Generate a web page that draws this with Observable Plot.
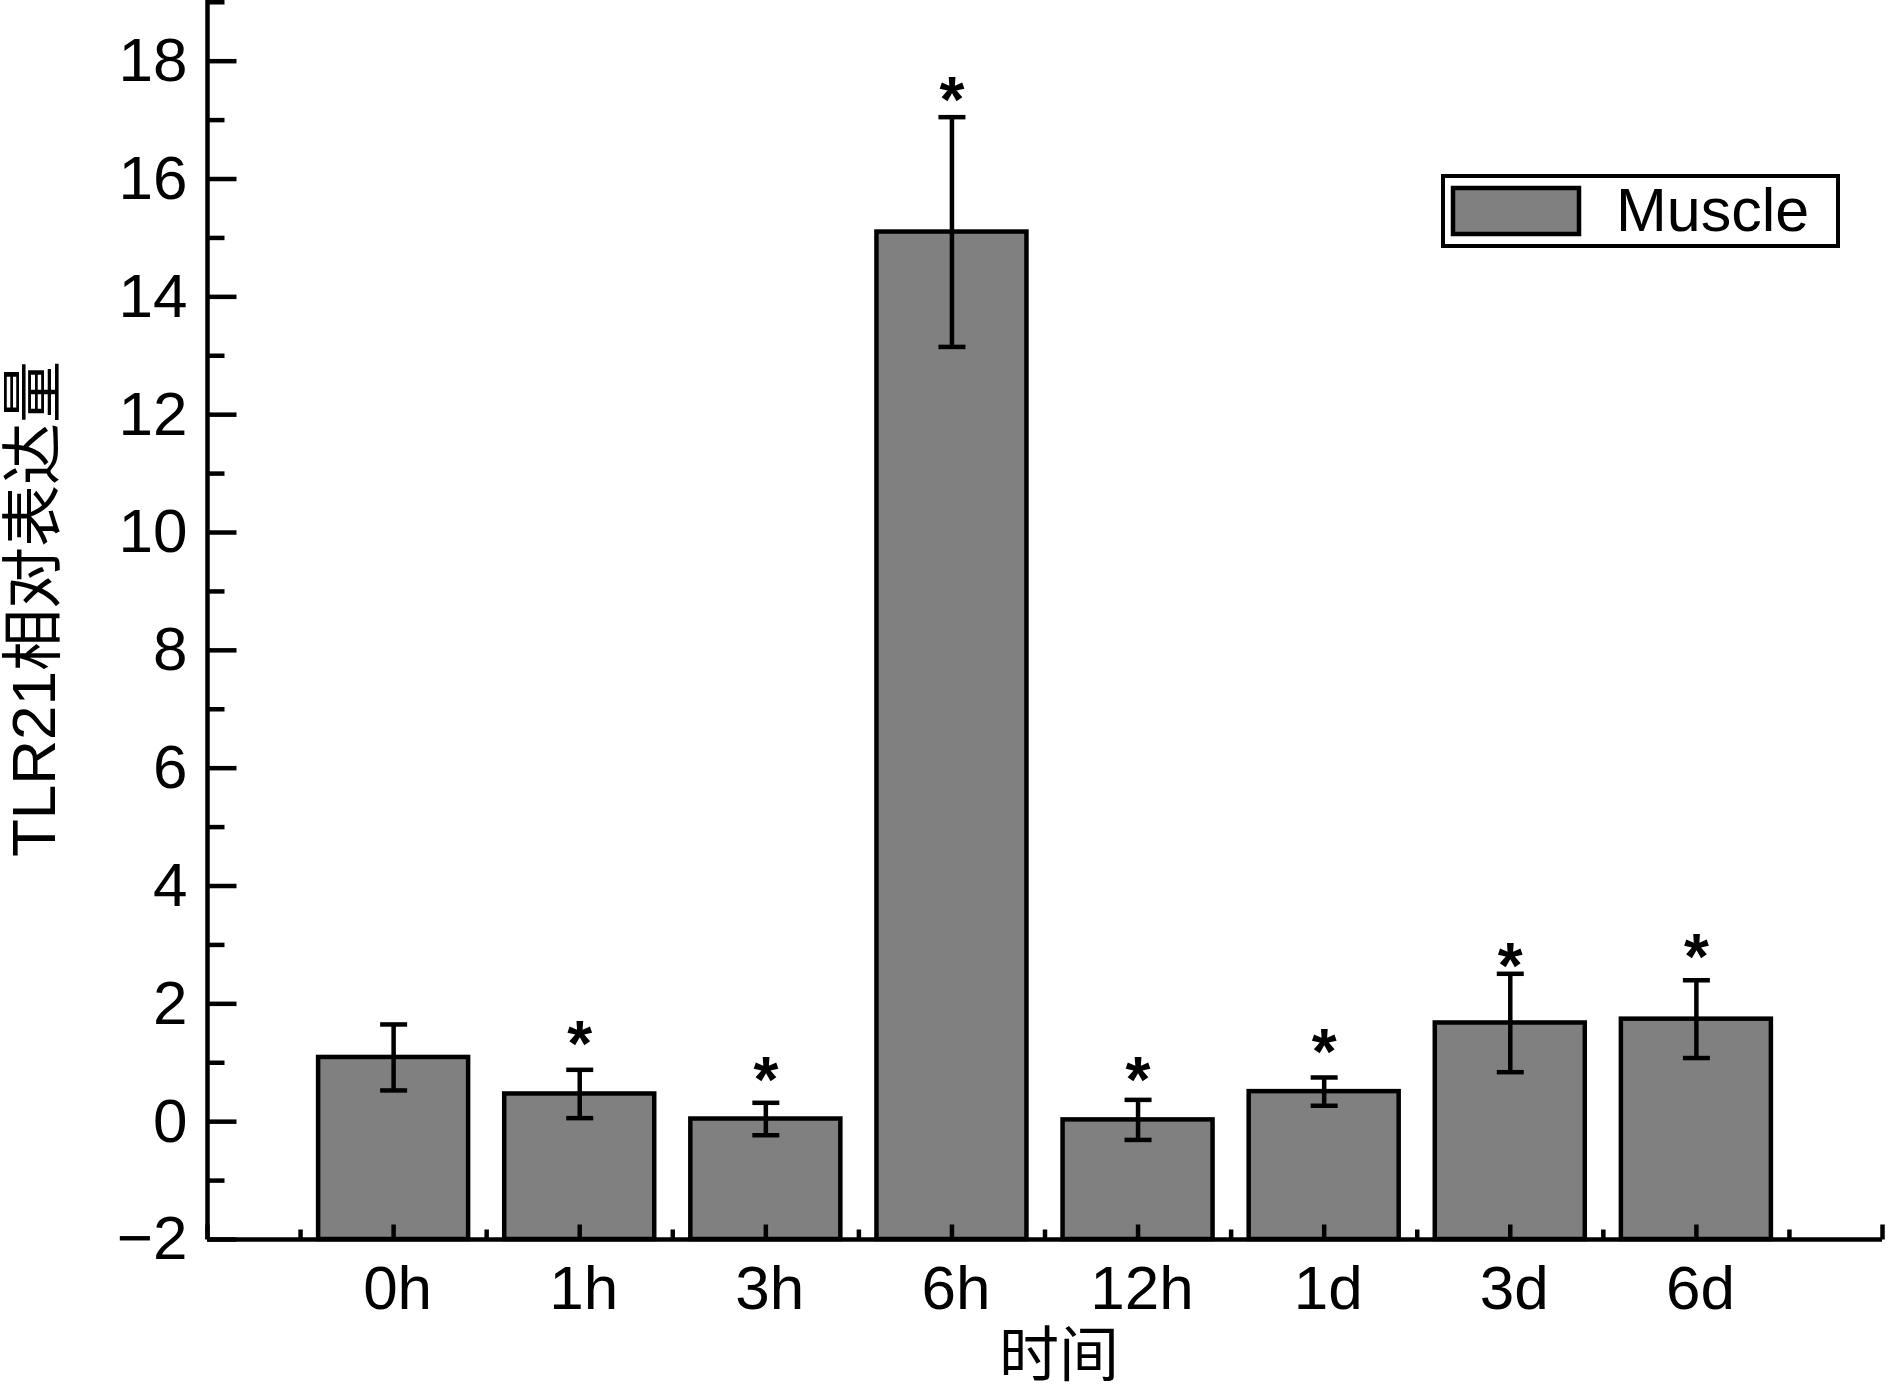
<!DOCTYPE html>
<html>
<head>
<meta charset="utf-8">
<script src="https://cdn.jsdelivr.net/npm/d3@7"></script>
<script src="https://cdn.jsdelivr.net/npm/@observablehq/plot@0.6"></script>
<style>
  html, body { margin: 0; padding: 0; background: white; overflow: hidden; }
  #chart svg { display: block; }
</style>
</head>
<body>
<div id="chart"></div>
<script>
// ---- data ----
const categories = ["0h", "1h", "3h", "6h", "12h", "1d", "3d", "6d"];
const means      = [1.09, 0.47, 0.045, 15.10, 0.03, 0.51, 1.675, 1.74];
const errors     = [0.56, 0.41, 0.275, 1.95, 0.34, 0.24, 0.835, 0.66];
const starLevels = [null, 1.52, 0.91, 17.54, 0.91, 1.37, 2.83, 2.99];
const yMajorTicks = [-2, 0, 2, 4, 6, 8, 10, 12, 14, 16, 18];
const yMinorTicks = [-1, 1, 3, 5, 7, 9, 11, 13, 15, 17, 19];
const yDomain = [-2, 19.03];
const yLabel = "TLR21相对表达量";
const xLabel = "时间";
const legendLabel = "Muscle";

// ---- derived tables ----
const bars = categories.map((c, i) => ({i, c, v: means[i], e: errors[i]}));
const stars = categories.map((c, i) => ({i, s: starLevels[i]})).filter(d => d.s != null);
const xMajorTicks = d3.range(-1, categories.length + 1);
const xMinorTicks = d3.range(-0.5, categories.length + 0.5, 1);
const fmt = d3.format("d");

const W = 1886, H = 1397;
const FONT = "'Liberation Sans', Arial, 'Noto Sans CJK SC', sans-serif";
const LW = 4.5;

// custom line symbols
const capSym = {draw(ctx, size) { const r = Math.sqrt(size / Math.PI); ctx.moveTo(-r, 0); ctx.lineTo(r, 0); }};
const rightTick = {draw(ctx, size) { const r = Math.sqrt(size / Math.PI); ctx.moveTo(0, 0); ctx.lineTo(r, 0); }};
const upTick = {draw(ctx, size) { const r = Math.sqrt(size / Math.PI); ctx.moveTo(0, 0); ctx.lineTo(0, -r); }};

const plot = Plot.plot({
  width: W,
  height: H,
  marginLeft: 207,
  marginRight: 4,
  marginTop: 0,
  marginBottom: 158,
  style: {fontFamily: FONT, background: "white", color: "black"},
  x: {type: "linear", domain: [-1, categories.length], axis: null},
  y: {domain: yDomain, axis: null},
  marks: [
    Plot.rect(bars, {x1: d => d.i - 0.403, x2: d => d.i + 0.403, y1: yDomain[0], y2: "v",
      fill: "#808080", stroke: "black", strokeWidth: LW}),
    Plot.ruleX(bars, {x: "i", y1: d => d.v - d.e, y2: d => d.v + d.e, stroke: "black", strokeWidth: LW}),
    Plot.dot(bars, {x: "i", y: d => d.v - d.e, symbol: capSym, r: 13.5, stroke: "black", strokeWidth: LW, fill: "none"}),
    Plot.dot(bars, {x: "i", y: d => d.v + d.e, symbol: capSym, r: 13.5, stroke: "black", strokeWidth: LW, fill: "none"}),
    Plot.text(stars, {x: "i", y: "s", text: () => "*", fontSize: 64, fontWeight: "bold", dy: 13, fill: "black"}),
    // axes lines
    Plot.ruleX([-1], {stroke: "black", strokeWidth: LW}),
    Plot.ruleY([yDomain[0]], {stroke: "black", strokeWidth: LW}),
    // y ticks (inward)
    Plot.dot(yMajorTicks, {y: d => d, frameAnchor: "left", symbol: rightTick, r: 29, stroke: "black", strokeWidth: LW, fill: "none"}),
    Plot.dot(yMinorTicks, {y: d => d, frameAnchor: "left", symbol: rightTick, r: 17, stroke: "black", strokeWidth: LW, fill: "none"}),
    Plot.text(yMajorTicks, {y: d => d, text: d => fmt(d), frameAnchor: "left", textAnchor: "end", dx: -20, fontSize: 62, fill: "black"}),
    // x ticks (inward)
    Plot.dot(xMajorTicks, {x: d => d, frameAnchor: "bottom", symbol: upTick, r: 15, stroke: "black", strokeWidth: LW, fill: "none"}),
    Plot.dot(xMinorTicks, {x: d => d, frameAnchor: "bottom", symbol: upTick, r: 10, stroke: "black", strokeWidth: LW, fill: "none"}),
    Plot.text(bars, {x: "i", text: "c", frameAnchor: "bottom", lineAnchor: "top", dx: 4, dy: 25, fontSize: 62, fill: "black"}),
    // axis titles
    Plot.text([yLabel], {text: d => d, frameAnchor: "left", textAnchor: "middle", lineAnchor: "middle", rotate: -90, dx: -172, dy: -11, fontSize: 62, fill: "black"}),
    Plot.text([xLabel], {text: d => d, frameAnchor: "bottom", textAnchor: "middle", lineAnchor: "middle", dx: 14, dy: 117, fontSize: 60, fill: "black"})
  ]
});

document.getElementById("chart").appendChild(plot);

// ---- legend (inside the plot, top-right) ----
const svg = d3.select(plot);
const lg = svg.append("g").attr("class", "legend");
lg.append("rect").attr("x", 1443).attr("y", 176).attr("width", 395).attr("height", 70)
  .attr("fill", "white").attr("stroke", "black").attr("stroke-width", 4);
lg.append("rect").attr("x", 1453).attr("y", 188).attr("width", 126).attr("height", 46)
  .attr("fill", "#808080").attr("stroke", "black").attr("stroke-width", LW);
lg.append("text").attr("x", 1616).attr("y", 231).attr("font-size", 61)
  .attr("text-anchor", "start")
  .attr("font-family", FONT).attr("fill", "black").text(legendLabel);
</script>
</body>
</html>
